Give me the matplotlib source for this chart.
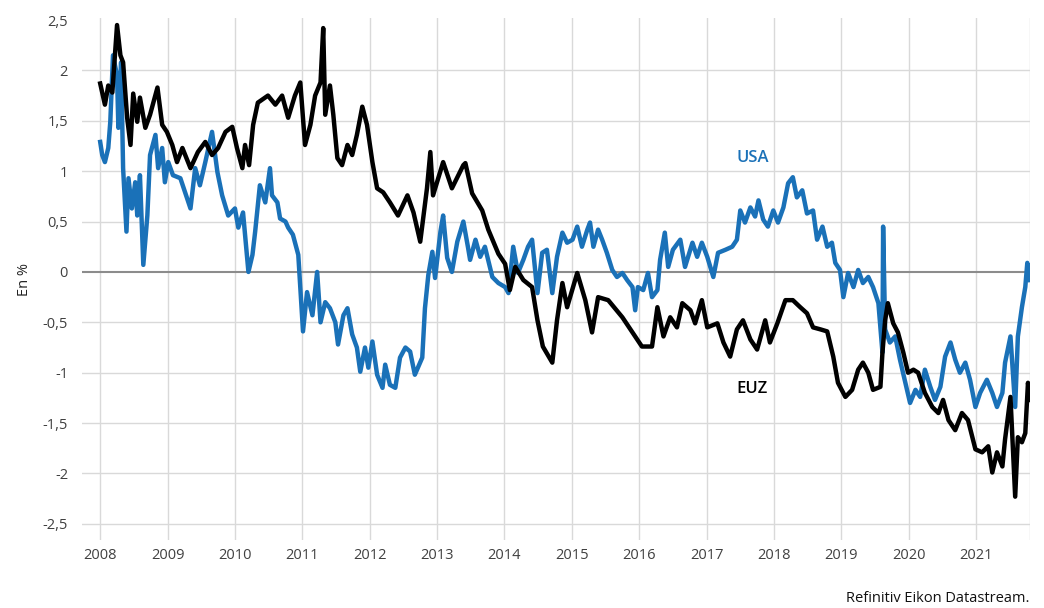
import matplotlib
matplotlib.use('Agg')
import matplotlib.pyplot as plt

plt.rcParams['font.family'] = ['Open Sans', 'DejaVu Sans']

# dates as decimal years, values in %
euz_dates = [2008.00, 2008.07, 2008.12, 2008.18, 2008.25, 2008.30, 2008.34, 2008.40, 2008.45, 2008.49,
             2008.55, 2008.59, 2008.67, 2008.74, 2008.85, 2008.92, 2008.99, 2009.07, 2009.14, 2009.22,
             2009.34, 2009.45, 2009.56, 2009.66, 2009.75, 2009.86, 2009.96, 2010.03, 2010.11, 2010.15,
             2010.21, 2010.27, 2010.34, 2010.49, 2010.60, 2010.70, 2010.79, 2010.89, 2010.97, 2011.04,
             2011.12, 2011.19, 2011.27, 2011.31, 2011.34, 2011.41, 2011.46, 2011.52, 2011.59, 2011.67,
             2011.74, 2011.81, 2011.89, 2011.96, 2012.04, 2012.11, 2012.20, 2012.30, 2012.42, 2012.56,
             2012.65, 2012.75, 2012.85, 2012.90, 2012.94, 2013.09, 2013.22, 2013.39, 2013.42, 2013.52,
             2013.67, 2013.76, 2013.91, 2014.01, 2014.08, 2014.16, 2014.28, 2014.41, 2014.49, 2014.57,
             2014.71, 2014.78, 2014.86, 2014.93, 2015.08, 2015.20, 2015.30, 2015.39, 2015.54, 2015.75,
             2015.90, 2016.04, 2016.19, 2016.27, 2016.36, 2016.46, 2016.56, 2016.64, 2016.76, 2016.83,
             2016.93, 2017.01, 2017.16, 2017.25, 2017.35, 2017.45, 2017.54, 2017.65, 2017.75, 2017.87,
             2017.94, 2018.05, 2018.17, 2018.28, 2018.39, 2018.49, 2018.58, 2018.69, 2018.79, 2018.88,
             2018.95, 2019.06, 2019.16, 2019.25, 2019.32, 2019.40, 2019.47, 2019.58, 2019.61, 2019.65,
             2019.69, 2019.77, 2019.84, 2019.92, 2019.99, 2020.07, 2020.14, 2020.24, 2020.35, 2020.44,
             2020.51, 2020.59, 2020.69, 2020.79, 2020.88, 2020.99, 2021.09, 2021.18, 2021.24, 2021.31,
             2021.39, 2021.43, 2021.51, 2021.58, 2021.62, 2021.68, 2021.73, 2021.77, 2021.80]
euz_values = [1.87, 1.66, 1.85, 1.78, 2.45, 2.15, 2.08, 1.53, 1.26, 1.77,
              1.49, 1.73, 1.43, 1.56, 1.83, 1.46, 1.39, 1.26, 1.09, 1.23,
              1.03, 1.19, 1.29, 1.16, 1.23, 1.39, 1.44, 1.23, 1.03, 1.26,
              1.06, 1.46, 1.68, 1.75, 1.66, 1.75, 1.53, 1.75, 1.88, 1.26,
              1.46, 1.75, 1.88, 2.42, 1.56, 1.85, 1.56, 1.13, 1.06, 1.26,
              1.16, 1.36, 1.64, 1.46, 1.09, 0.83, 0.79, 0.69, 0.56, 0.76,
              0.59, 0.30, 0.83, 1.19, 0.76, 1.09, 0.83, 1.06, 1.08, 0.78,
              0.61, 0.42, 0.18, 0.08, -0.18, 0.05, -0.08, -0.15, -0.48, -0.74,
              -0.90, -0.48, -0.11, -0.35, -0.01, -0.28, -0.60, -0.25, -0.28, -0.45,
              -0.60, -0.74, -0.74, -0.35, -0.64, -0.45, -0.55, -0.31, -0.38, -0.51,
              -0.28, -0.55, -0.51, -0.70, -0.84, -0.57, -0.48, -0.67, -0.77, -0.48,
              -0.70, -0.51, -0.28, -0.28, -0.35, -0.41, -0.55, -0.57, -0.59, -0.84,
              -1.10, -1.24, -1.17, -0.97, -0.90, -1.00, -1.17, -1.14, -0.80, -0.48,
              -0.31, -0.51, -0.60, -0.80, -1.00, -0.97, -1.00, -1.20, -1.34, -1.40,
              -1.27, -1.47, -1.57, -1.40, -1.47, -1.76, -1.79, -1.73, -1.99, -1.79,
              -1.93, -1.66, -1.24, -2.23, -1.64, -1.69, -1.60, -1.10, -1.27]

usa_dates = [2008.00, 2008.03, 2008.07, 2008.12, 2008.15, 2008.19, 2008.25, 2008.27, 2008.31, 2008.34,
             2008.39, 2008.42, 2008.47, 2008.52, 2008.55, 2008.59, 2008.64, 2008.70, 2008.74, 2008.82,
             2008.86, 2008.92, 2008.96, 2009.01, 2009.08, 2009.19, 2009.26, 2009.34, 2009.41, 2009.48,
             2009.56, 2009.66, 2009.74, 2009.81, 2009.90, 2010.00, 2010.05, 2010.12, 2010.20, 2010.26,
             2010.30, 2010.37, 2010.45, 2010.52, 2010.55, 2010.63, 2010.67, 2010.75, 2010.79, 2010.86,
             2010.94, 2011.01, 2011.07, 2011.15, 2011.22, 2011.27, 2011.34, 2011.41, 2011.49, 2011.53,
             2011.61, 2011.67, 2011.74, 2011.81, 2011.86, 2011.93, 2011.98, 2012.04, 2012.11, 2012.19,
             2012.23, 2012.30, 2012.38, 2012.45, 2012.53, 2012.60, 2012.67, 2012.78, 2012.82, 2012.87,
             2012.93, 2012.97, 2013.05, 2013.09, 2013.15, 2013.22, 2013.30, 2013.39, 2013.46, 2013.49,
             2013.57, 2013.64, 2013.71, 2013.82, 2013.91, 2014.01, 2014.06, 2014.13, 2014.20, 2014.28,
             2014.35, 2014.41, 2014.49, 2014.56, 2014.63, 2014.71, 2014.78, 2014.86, 2014.93, 2015.01,
             2015.08, 2015.15, 2015.23, 2015.27, 2015.32, 2015.39, 2015.45, 2015.52, 2015.60, 2015.67,
             2015.75, 2015.82, 2015.90, 2015.94, 2015.98, 2016.06, 2016.13, 2016.19, 2016.27, 2016.31,
             2016.38, 2016.43, 2016.50, 2016.61, 2016.68, 2016.79, 2016.86, 2016.93, 2017.01, 2017.10,
             2017.17, 2017.28, 2017.38, 2017.45, 2017.50, 2017.57, 2017.65, 2017.72, 2017.77, 2017.84,
             2017.91, 2017.99, 2018.06, 2018.14, 2018.21, 2018.28, 2018.34, 2018.42, 2018.49, 2018.58,
             2018.64, 2018.72, 2018.79, 2018.86, 2018.91, 2018.98, 2019.03, 2019.10, 2019.18, 2019.25,
             2019.32, 2019.40, 2019.47, 2019.55, 2019.61, 2019.62, 2019.65, 2019.72, 2019.80, 2019.87,
             2019.95, 2020.02, 2020.10, 2020.17, 2020.24, 2020.32, 2020.39, 2020.47, 2020.54, 2020.62,
             2020.69, 2020.76, 2020.84, 2020.91, 2020.99, 2021.06, 2021.16, 2021.24, 2021.31, 2021.39,
             2021.43, 2021.51, 2021.58, 2021.62, 2021.68, 2021.73, 2021.76, 2021.80]
usa_values = [1.29, 1.16, 1.09, 1.23, 1.49, 2.15, 1.95, 1.43, 2.08, 1.03,
              0.40, 0.93, 0.63, 0.89, 0.56, 0.96, 0.07, 0.56, 1.16, 1.36,
              1.03, 1.23, 0.89, 1.09, 0.96, 0.93, 0.79, 0.63, 1.03, 0.86,
              1.09, 1.39, 0.99, 0.76, 0.56, 0.63, 0.44, 0.59, 0.00, 0.17,
              0.40, 0.86, 0.69, 1.03, 0.76, 0.69, 0.53, 0.50, 0.44, 0.37,
              0.17, -0.59, -0.20, -0.43, 0.00, -0.50, -0.30, -0.36, -0.50, -0.72,
              -0.43, -0.36, -0.62, -0.75, -0.99, -0.75, -0.95, -0.69, -1.02, -1.15,
              -0.92, -1.12, -1.15, -0.85, -0.75, -0.79, -1.02, -0.85, -0.36, -0.03,
              0.20, -0.06, 0.40, 0.56, 0.14, 0.00, 0.30, 0.50, 0.24, 0.12,
              0.32, 0.15, 0.25, -0.05, -0.11, -0.15, -0.21, 0.25, -0.01, 0.12,
              0.25, 0.32, -0.21, 0.19, 0.22, -0.21, 0.15, 0.39, 0.29, 0.32,
              0.45, 0.25, 0.42, 0.49, 0.25, 0.42, 0.32, 0.19, 0.02, -0.05,
              -0.01, -0.08, -0.15, -0.38, -0.15, -0.18, -0.01, -0.25, -0.18, 0.12,
              0.39, 0.05, 0.22, 0.32, 0.05, 0.29, 0.15, 0.29, 0.15, -0.05,
              0.19, 0.22, 0.25, 0.32, 0.61, 0.49, 0.64, 0.55, 0.71, 0.52,
              0.45, 0.61, 0.49, 0.64, 0.88, 0.94, 0.74, 0.81, 0.58, 0.61,
              0.32, 0.45, 0.25, 0.29, 0.09, 0.02, -0.25, -0.01, -0.15, 0.02,
              -0.11, -0.05, -0.15, -0.31, -0.80, 0.45, -0.57, -0.70, -0.64, -0.87,
              -1.10, -1.30, -1.17, -1.24, -0.97, -1.14, -1.27, -1.14, -0.84, -0.70,
              -0.87, -1.00, -0.90, -1.07, -1.34, -1.20, -1.07, -1.20, -1.34, -1.20,
              -0.90, -0.64, -1.34, -0.64, -0.35, -0.15, 0.09, -0.08]

years = list(range(2008, 2022))
y_ticks = [2.5, 2, 1.5, 1, 0.5, 0, -0.5, -1, -1.5, -2, -2.5]
y_tick_labels = ['2,5', '2', '1,5', '1', '0,5', '0', '-0,5', '-1', '-1,5', '-2', '-2,5']

blue = '#1a71b8'
grid_col = '#d9d9d9'
x_left, x_right = 2007.73, 2021.80

fig = plt.figure(figsize=(10.44, 6.08), dpi=100)
ax = fig.add_axes([82 / 1044, 1 - 540 / 608, (1030 - 82) / 1044, (540 - 18) / 608])

for v in y_ticks:
    if v == 2.5:
        continue
    if v == 0:
        ax.axhline(v, color='#8c8c8c', lw=1.5, zorder=2)
    else:
        ax.axhline(v, color=grid_col, lw=1, zorder=1)
for yr in years:
    ax.axvline(yr, color=grid_col, lw=1, zorder=1)
ax.axvline(x_right, color=grid_col, lw=1, zorder=1)

ax.plot(usa_dates, usa_values, color=blue, lw=3.2, zorder=3, solid_joinstyle='round')
ax.plot(euz_dates, euz_values, color='black', lw=3.2, zorder=4, solid_joinstyle='round')

ax.set_xlim(x_left, x_right)
ax.set_ylim(-2.66, 2.52)
ax.set_xticks(years)
ax.set_xticklabels([str(y) for y in years])
ax.set_yticks(y_ticks)
ax.set_yticklabels(y_tick_labels)
ax.tick_params(axis='both', length=0, labelsize=10.5, labelcolor='#404040')
ax.tick_params(axis='y', pad=10)
ax.tick_params(axis='x', pad=6)
for s in ax.spines.values():
    s.set_visible(False)

ax.set_ylabel('En %', fontsize=10.5, color='#222222', labelpad=8)

ax.text(2017.68, 1.13, 'USA', color=blue, fontsize=12, fontweight='semibold', ha='center', va='center')
ax.text(2017.68, -1.16, 'EUZ', color='black', fontsize=12, fontweight='semibold', ha='center', va='center')

fig.text(1030 / 1044, 1 - 598 / 608, 'Refinitiv Eikon Datastream.', ha='right', va='center',
         fontsize=10.5, color='#111111')

plt.savefig('out.png', dpi=100)
